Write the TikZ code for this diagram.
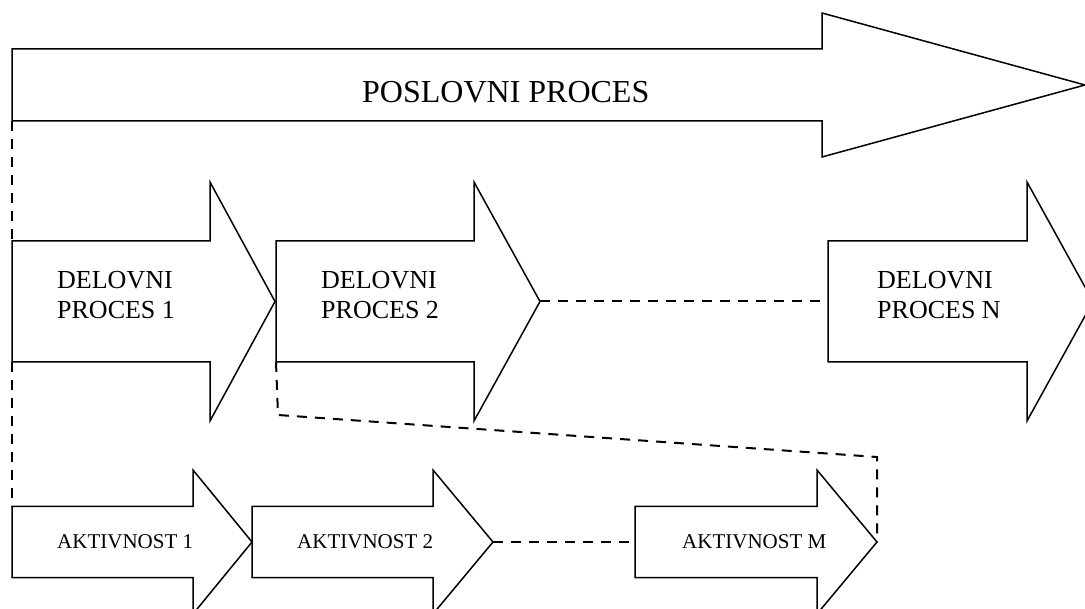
\documentclass[tikz,border=0pt]{standalone}
\usepackage{fontspec}
\setmainfont{Liberation Serif}
\begin{document}
% Block arrow: name, left x, centre y, shaft half-height, head base x, head half-height, tip x
\newcommand\blockarrow[7]{%
  \draw[arrowline] (#2,#3-#4) coordinate (#1-nw) -- (#5,#3-#4) -- (#5,#3-#6)
    -- (#7,#3) coordinate (#1-tip) -- (#5,#3+#6) -- (#5,#3+#4)
    -- (#2,#3+#4) coordinate (#1-sw) -- cycle;
  \coordinate (#1-w) at (#2,#3);}
\begin{tikzpicture}[x=1pt,y=-1pt,
  arrowline/.style={line width=1.5pt, line join=miter},
  link/.style={line width=2pt, dash pattern=on 10pt off 8pt},
  titletext/.style={anchor=west, inner sep=0pt, font=\fontsize{32}{38}\selectfont},
  proctext/.style={anchor=north west, inner sep=0pt, align=left, font=\fontsize{26}{29.5}\selectfont},
  acttext/.style={anchor=west, inner sep=0pt, font=\fontsize{21}{25}\selectfont}]
\path[use as bounding box, clip] (0,0) rectangle (1085,609);

% business process
\blockarrow{bp}{12}{85}{36}{822}{72}{1085}
\node[titletext] (bptext) at (362,92.5) {POSLOVNI PROCES};

% work processes
\blockarrow{dp1}{12}{301.5}{60.5}{210}{119.5}{275}
\blockarrow{dp2}{276}{301.5}{60.5}{474}{119.5}{540}
\blockarrow{dpn}{828}{301.5}{60.5}{1027}{119.5}{1093}
\node[proctext] (dp1text) at (57,271.5) {DELOVNI\\PROCES 1};
\node[proctext] (dp2text) at (321,271.5) {DELOVNI\\PROCES 2};
\node[proctext] (dpntext) at (877,271.5) {DELOVNI\\PROCES N};

% activities
\blockarrow{a1}{12}{542}{35.5}{193}{72}{252}
\blockarrow{a2}{252}{542}{35.5}{433}{72}{493}
\blockarrow{am}{635}{542}{35.5}{817}{72}{877}
\node[acttext] (a1text) at (57,542) {AKTIVNOST 1};
\node[acttext] (a2text) at (297,542) {AKTIVNOST 2};
\node[acttext] (amtext) at (682,542) {AKTIVNOST M};

% dashed links
\coordinate (bend1) at (278,415);
\coordinate (bend2) at (877,457);
\draw[link] (bp-sw) -- (dp1-nw);
\draw[link] (dp1-sw) -- (a1-nw);
\draw[link] (dp2-tip) -- (dpn-w);
\draw[link] (a2-tip) -- (am-w);
\draw[link] (dp2-sw) -- (bend1) -- (bend2) -- (am-tip);
\end{tikzpicture}
\end{document}
